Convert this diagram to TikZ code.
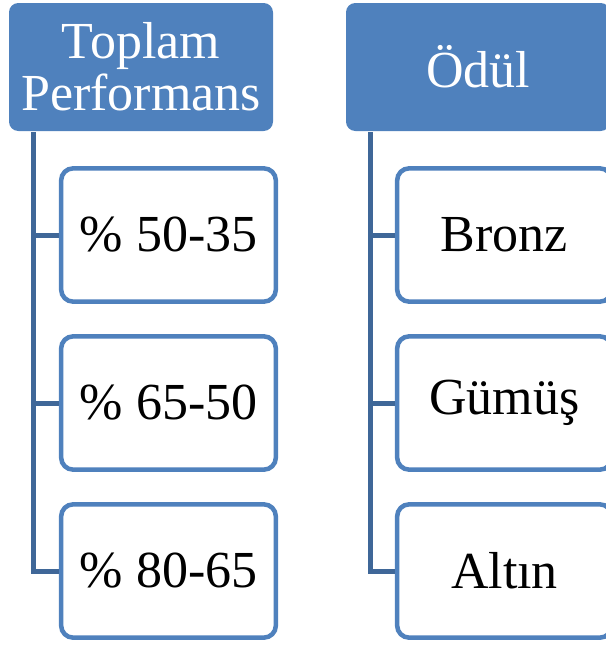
\documentclass[tikz,border=0pt]{standalone}
\usepackage{fontspec}
\setmainfont{Liberation Serif}
\usepackage{tikz}
\usetikzlibrary{positioning}
\usepackage{xcolor}
\definecolor{hdblue}{HTML}{4F81BD}
\definecolor{spineblue}{HTML}{3F6798}

\begin{document}
\begin{tikzpicture}[x=0.75pt,y=-0.75pt,
  header/.style={fill=hdblue,rounded corners=7pt,text=white,align=center,
    minimum width=198pt,minimum height=96pt,inner sep=0pt,
    font=\fontsize{39}{39}\selectfont},
  item/.style={draw=hdblue,line width=3.4pt,fill=white,rounded corners=9pt,
    minimum width=161pt,minimum height=100pt,inner sep=0pt,
    font=\fontsize{39}{39}\selectfont},
  spine/.style={draw=spineblue,line width=3.75pt}]
 \useasboundingbox (0,0) rectangle (606,646);
 \clip (0,0) rectangle (606,646);

 % headers
 \node[header] (toplam) at (141,67) {Toplam\\Performans};
 \node[header] (odul) at (478,67) {Ödül};

 % left column
 \node[item] (p1) at (168.5,235) {\% 50-35};
 \node[item] (p2) at (168.5,403) {\% 65-50};
 \node[item] (p3) at (168.5,571) {\% 80-65};
 \coordinate (ltop) at (33,132);
 \draw[spine] (ltop) |- (p3.west);
 \draw[spine] (ltop |- p1.west) -- (p1.west);
 \draw[spine] (ltop |- p2.west) -- (p2.west);

 % right column
 \node[item] (bronz) at (504.5,235) {Bronz};
 \node[item] (gumus) at (504.5,403) {Gümüş};
 \node[item] (altin) at (504.5,571) {Altın};
 \coordinate (rtop) at (370,132);
 \draw[spine] (rtop) |- (altin.west);
 \draw[spine] (rtop |- bronz.west) -- (bronz.west);
 \draw[spine] (rtop |- gumus.west) -- (gumus.west);
\end{tikzpicture}
\end{document}
